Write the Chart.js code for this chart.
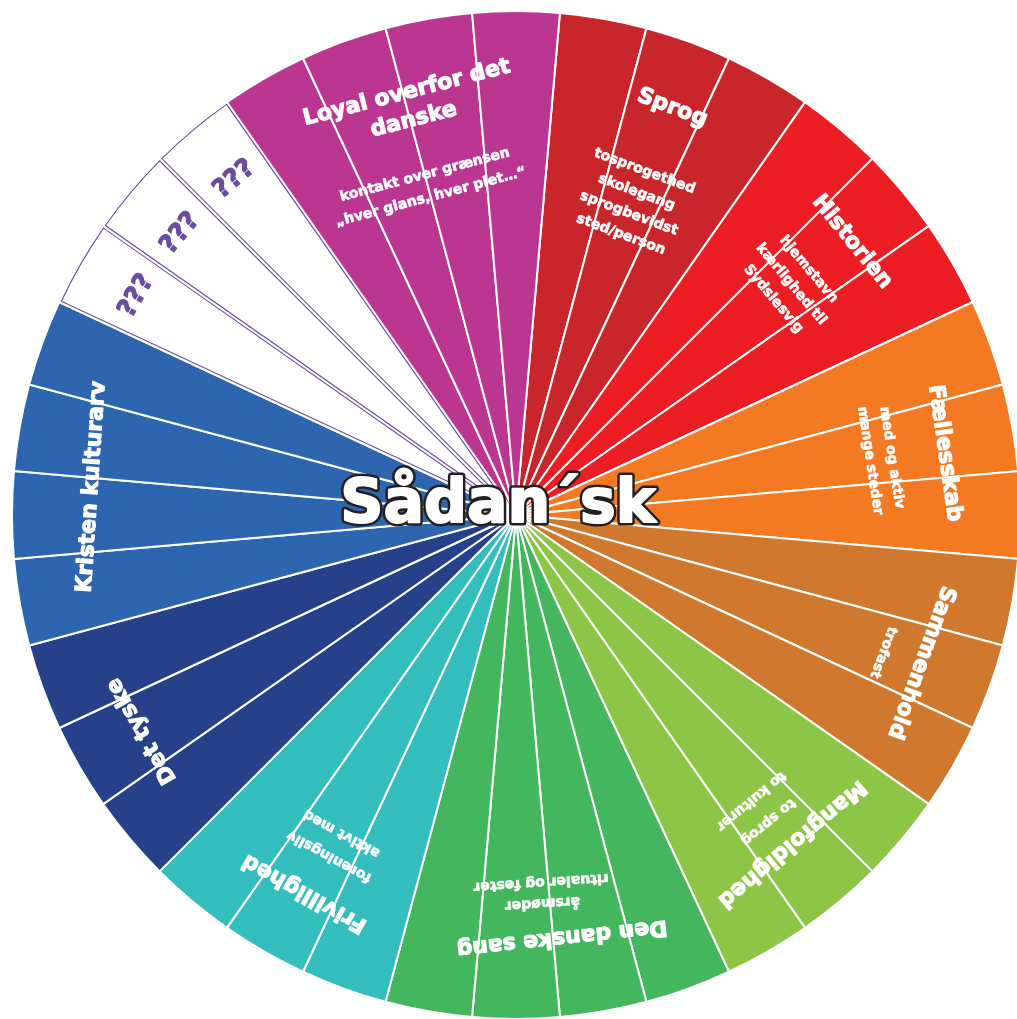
<!DOCTYPE html>
<html>
<head>
<meta charset="utf-8">
<script src="https://cdn.jsdelivr.net/npm/chart.js@4.4.0/dist/chart.umd.min.js"></script>
<style>
html,body{margin:0;padding:0;background:#ffffff;overflow:hidden}
#wrap{position:relative;width:1017px;height:1019px}
</style>
</head>
<body>
<div id="wrap"><canvas id="c"></canvas></div>
<script>
// ---------- DATA ----------
const categories = ["Sprog","Historien","Fællesskab","Sammenhold","Mangfoldighed","Den danske sang","Frivillighed","Det tyske","Kristen kulturarv","???","???","???","Loyal overfor det danske"];
const slicesPerCategory = [3,3,3,3,3,4,3,3,4,1,1,1,4];
const sliceValues = [1,1,1, 1,1,1, 1,1,1, 1,1,1, 1,1,1, 1,1,1,1, 1,1,1, 1,1,1, 1,1,1,1, 1, 1, 1, 1,1,1,1];
const categoryColors = ["#C9262B","#ED1D24","#F37A23","#D0792E","#8DC646","#44B65E","#33BDBD","#26408A","#2E65AF","#FFFFFF","#FFFFFF","#FFFFFF","#BB3691"];
const titleLines = [["Sprog"],["Historien"],["Fællesskab"],["Sammenhold"],["Mangfoldighed"],["Den danske sang"],["Frivillighed"],["Det tyske"],["Kristen kulturarv"],["???"],["???"],["???"],["Loyal overfor det","danske"]];
const subLabels = [
  ["tosprogethed","skolegang","sprogbevidst","sted/person"],
  ["hjemstavn","kærlighed til","Sydslesvig"],
  ["med og aktiv","mange steder"],
  ["trofast"],
  ["to sprog","to kulturer"],
  ["årsmøder","ritualer og fester"],
  ["foreningsliv","aktivt med"],
  [],[],[],[],[],
  ["kontakt over grænsen","„hver glans, hver plet…“"]
];
const centerTitle = "Sådan´sk";

// ---------- tables the library needs ----------
const sliceColors = [];
const sliceLabels = [];
categories.forEach((c,k)=>{ for(let i=0;i<slicesPerCategory[k];i++){ sliceColors.push(categoryColors[k]); sliceLabels.push(c); } });

function outlineArc(ctx, el, color, d, lw){
  const {x, y, startAngle:a, endAngle:b, outerRadius:R} = el.getProps(['x','y','startAngle','endAngle','outerRadius'], true);
  const half=(b-a)/2, mid=(a+b)/2;
  const pd = d/Math.sin(half);
  const px = x + pd*Math.cos(mid), py = y + pd*Math.sin(mid);
  const Ri = R - d;
  const L = Math.sqrt(Ri*Ri - d*d);
  const e = Math.asin(d/Ri);
  ctx.save();
  ctx.strokeStyle = color; ctx.lineWidth = lw; ctx.lineJoin='miter';
  ctx.beginPath();
  ctx.moveTo(px,py);
  ctx.lineTo(x - d*Math.sin(a) + L*Math.cos(a), y + d*Math.cos(a) + L*Math.sin(a));
  ctx.arc(x,y,Ri,a+e,b-e);
  ctx.closePath();
  ctx.stroke();
  ctx.restore();
}
function radialText(ctx, cx, cy, thetaDeg, r, text, weight){
  const t = thetaDeg*Math.PI/180;
  ctx.save();
  ctx.translate(cx + r*Math.sin(t), cy - r*Math.cos(t));
  ctx.rotate(t);
  if(weight>0){ ctx.lineWidth = weight; ctx.strokeStyle = ctx.fillStyle; ctx.lineJoin='round'; ctx.strokeText(text,0,0); }
  ctx.fillText(text,0,0);
  ctx.restore();
}

const wheelLabels = {
  id:'wheelLabels',
  afterDatasetsDraw(chart, args, o){
    const arcs = chart.getDatasetMeta(0).data;
    if(!arcs.length) return;
    const ctx = chart.ctx;
    const cx = arcs[0].x, cy = arcs[0].y;
    let idx = 0;
    ctx.save();
    ctx.textAlign='center'; ctx.textBaseline='middle';
    categories.forEach((cat,k)=>{
      const n = slicesPerCategory[k];
      const first = arcs[idx], last = arcs[idx+n-1];
      if(o.outlined[k]){ for(let j=idx;j<idx+n;j++) outlineArc(ctx, arcs[j], o.outlineColor, o.outlineInset, o.outlineWidth); }
      const midDeg = ((first.startAngle + last.endAngle)/2 + Math.PI/2)*180/Math.PI;
      ctx.fillStyle = o.outlined[k] ? o.outlineColor : o.textColor;
      ctx.font = o.outlined[k] ? o.qFont : o.titleFont;
      titleLines[k].forEach((line,i)=>{
        radialText(ctx, cx, cy, midDeg + o.titleShift[k], o.titleRadius[k] - i*o.titleGap, line, o.titleWeight);
      });
      ctx.fillStyle = o.textColor;
      ctx.font = o.subFont;
      subLabels[k].forEach((line,i)=>{
        radialText(ctx, cx, cy, midDeg + o.subShift[k], o.subRadius[k] - i*o.subGap[k], line, o.subWeight);
      });
      idx += n;
    });
    // centre title
    ctx.font = o.centerFont;
    ctx.lineJoin='round';
    const tx = cx + o.centerDx, ty = cy + o.centerDy;
    ctx.strokeStyle = o.centerStroke; ctx.lineWidth = o.centerStrokeWidth;
    ctx.strokeText(centerTitle, tx, ty);
    ctx.fillStyle = '#FFFFFF'; ctx.strokeStyle = '#FFFFFF'; ctx.lineWidth = o.centerFatten;
    ctx.strokeText(centerTitle, tx, ty);
    ctx.fillText(centerTitle, tx, ty);
    ctx.restore();
  }
};

new Chart(document.getElementById('c'), {
  type:'pie',
  data:{ labels: sliceLabels, datasets:[{ data: sliceValues, backgroundColor: sliceColors, borderColor:'#FFFFFF', borderWidth:2, radius:504 }] },
  plugins:[wheelLabels],
  options:{
    responsive:true, maintainAspectRatio:false, animation:false,
    rotation:5, radius:504,
    layout:{ padding:{ left:15, top:11, right:0, bottom:0 } },
    plugins:{
      legend:{display:false}, tooltip:{enabled:false},
      wheelLabels:{
        outlined:[false,false,false,false,false,false,false,false,false,true,true,true,false],
        outlineColor:'#6A4DA0', outlineInset:1.6, outlineWidth:1.1,
        textColor:'#FFFFFF',
        titleFont:"bold 22px 'DejaVu Sans'", qFont:"bold 26px 'DejaVu Sans'", subFont:"bold 14px 'DejaVu Sans'",
        titleWeight:1.1, subWeight:0.6,
        titleRadius:[436,433,433,431,429,425,433,432,425,438,438,438,436],
        titleShift:[1,0.9,1.8,0,0,-1.2,-0.8,0,-1.2,0,0,0,0.5],
        titleGap:28,
        subRadius:[367,382,380,392,397,389,389,0,0,0,0,0,352],
        subGap:[22.5,23,22,0,27,21,26,0,0,0,0,0,23],
        subShift:[0.5,0,1.3,0.5,0.6,1.1,-1.3,0,0,0,0,0,0],
        centerFont:"bold 60px 'DejaVu Sans'", centerStroke:'#231F20', centerStrokeWidth:7, centerFatten:2,
        centerDx:-18, centerDy:-9
      }
    }
  }
});
</script>
</body>
</html>
